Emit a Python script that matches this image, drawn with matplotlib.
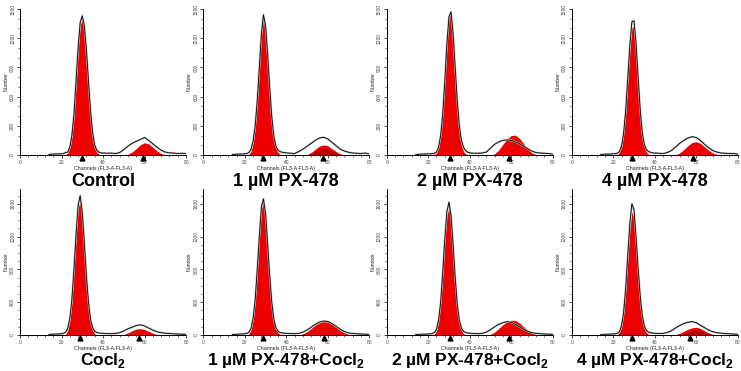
import numpy as np
import matplotlib.pyplot as plt
from matplotlib.ticker import MultipleLocator

# ------------------------------------------------------------------
# histogram channels (FL3-A)
ch = [14, 16, 18, 20,
      21, 22, 23, 24, 25, 26, 27, 28, 29, 30, 31, 32, 33, 34, 35, 36, 37, 38, 39, 40,
      42, 44, 46, 48, 50, 52, 54, 56, 58, 60, 62, 64, 66, 68, 70, 72, 74, 76, 78, 80]

titles = ["Control", "1 µM PX-478", "2 µM PX-478", "4 µM PX-478",
          r"Cocl$_\mathrm{2}$", r"1 µM PX-478+Cocl$_\mathrm{2}$",
          r"2 µM PX-478+Cocl$_\mathrm{2}$", r"4 µM PX-478+Cocl$_\mathrm{2}$"]

# measured histogram (outline)
control_total = [5, 10, 12, 12,
                 15, 25, 30, 80, 200, 420, 760, 1100, 1360, 1430, 1330, 1080, 760, 450, 230, 100, 50, 30, 22, 20,
                 18, 20, 15, 25, 55, 90, 120, 140, 160, 180, 150, 115, 80, 50, 30, 22, 20, 15, 18, 12]
px1_total = [5, 8, 10, 12,
             15, 25, 60, 140, 300, 560, 900, 1250, 1440, 1330, 1040, 690, 390, 190, 90, 50, 35, 28, 25, 22,
             18, 15, 35, 60, 90, 120, 150, 175, 182, 165, 130, 95, 60, 40, 28, 20, 18, 15, 20, 12]
px2_total = [5, 8, 10, 12,
             12, 14, 18, 30, 80, 200, 420, 760, 1140, 1420, 1470, 1250, 900, 560, 300, 150, 80, 45, 30, 22,
             18, 18, 20, 30, 70, 110, 135, 150, 155, 150, 135, 115, 90, 65, 40, 25, 20, 18, 15, 10]
px4_total = [5, 8, 10, 12,
             14, 18, 35, 90, 220, 450, 780, 1120, 1370, 1380, 1150, 800, 470, 230, 110, 55, 35, 28, 22, 20,
             18, 15, 25, 45, 80, 120, 150, 175, 188, 180, 150, 110, 75, 45, 30, 20, 18, 15, 15, 10]
cocl_total = [5, 10, 12, 15,
              20, 35, 80, 200, 430, 800, 1220, 1580, 1700, 1500, 1130, 720, 400, 190, 90, 45, 30, 25, 22, 20,
              18, 16, 20, 28, 50, 75, 95, 115, 125, 110, 85, 60, 40, 28, 22, 18, 15, 12, 10, 8]
px1c_total = [5, 8, 12, 15,
              20, 35, 80, 200, 430, 800, 1200, 1560, 1660, 1480, 1120, 720, 400, 190, 90, 45, 30, 25, 22, 20,
              18, 16, 20, 35, 60, 95, 130, 158, 170, 165, 140, 105, 70, 42, 25, 18, 15, 12, 10, 8]
px2c_total = [5, 8, 10, 12,
              14, 18, 30, 70, 180, 400, 760, 1170, 1500, 1620, 1460, 1100, 700, 380, 180, 85, 45, 30, 25, 22,
              18, 16, 20, 35, 65, 100, 130, 150, 163, 155, 130, 100, 70, 45, 28, 20, 16, 12, 10, 8]
px4c_total = [5, 8, 10, 12,
              15, 20, 40, 110, 270, 560, 960, 1350, 1600, 1530, 1200, 820, 480, 240, 110, 55, 35, 28, 24, 20,
              18, 20, 30, 50, 85, 115, 140, 155, 163, 150, 120, 90, 60, 40, 28, 22, 18, 15, 12, 8]

# fitted G0/G1 and G2/M peaks (red)
control_fit = [0, 0, 0, 0,
               0, 5, 20, 70, 180, 400, 730, 1070, 1330, 1400, 1300, 1050, 730, 420, 200, 80, 25, 8, 2, 0,
               0, 0, 0, 0, 0, 8, 30, 65, 105, 126, 115, 80, 42, 15, 3, 0, 0, 0, 0, 0]
px1_fit = [0, 0, 0, 0,
           0, 5, 40, 120, 280, 540, 880, 1230, 1420, 1310, 1020, 670, 370, 170, 70, 25, 8, 2, 0, 0,
           0, 0, 0, 0, 5, 25, 60, 92, 103, 95, 65, 35, 12, 3, 0, 0, 0, 0, 0, 0]
px2_fit = [0, 0, 0, 0,
           0, 0, 5, 20, 70, 190, 410, 750, 1130, 1410, 1460, 1230, 870, 520, 250, 100, 35, 10, 3, 0,
           0, 0, 0, 0, 0, 12, 50, 110, 165, 200, 204, 170, 115, 60, 22, 5, 0, 0, 0, 0]
px4_fit = [0, 0, 0, 0,
           0, 5, 25, 80, 210, 430, 750, 1080, 1310, 1320, 1100, 760, 440, 200, 80, 28, 8, 2, 0, 0,
           0, 0, 0, 0, 0, 20, 55, 95, 128, 137, 120, 85, 48, 20, 5, 0, 0, 0, 0, 0]
cocl_fit = [0, 0, 0, 0,
            0, 10, 55, 170, 400, 770, 1180, 1540, 1640, 1440, 1080, 680, 360, 150, 55, 15, 4, 0, 0, 0,
            0, 0, 0, 0, 8, 25, 50, 72, 78, 68, 45, 22, 6, 0, 0, 0, 0, 0, 0, 0]
px1c_fit = [0, 0, 0, 0,
            0, 15, 60, 180, 410, 780, 1180, 1540, 1640, 1460, 1100, 700, 380, 170, 70, 25, 8, 2, 0, 0,
            0, 0, 0, 15, 40, 80, 120, 150, 163, 158, 130, 92, 55, 25, 8, 0, 0, 0, 0, 0]
px2c_fit = [0, 0, 0, 0,
            0, 0, 10, 50, 160, 380, 730, 1130, 1450, 1560, 1400, 1040, 650, 340, 150, 55, 15, 4, 0, 0,
            0, 0, 0, 0, 8, 35, 80, 125, 160, 180, 178, 145, 100, 55, 22, 5, 0, 0, 0, 0]
px4c_fit = [0, 0, 0, 0,
            0, 5, 30, 95, 250, 530, 910, 1280, 1500, 1440, 1130, 760, 430, 200, 80, 28, 8, 2, 0, 0,
            0, 0, 0, 0, 5, 20, 45, 70, 88, 94, 80, 52, 25, 8, 0, 0, 0, 0, 0, 0]

# darker inner G2 component (only two panels)
px1_dark = [0] * 24 + [0, 0, 0, 0, 0, 12, 38, 60, 69, 62, 40, 18, 5, 0, 0, 0, 0, 0, 0, 0]
px4c_dark = [0] * 24 + [0, 0, 0, 0, 0, 0, 15, 35, 52, 61, 50, 28, 10, 0, 0, 0, 0, 0, 0, 0]

# peak markers (channel)
markers = [[29.8, 59.3], [29.0, 57.7], [30.6, 58.7], [29.0, 58.4],
           [28.7, 57.2], [29.0, 58.3], [30.6, 58.7], [29.0, 57.0]]
# ------------------------------------------------------------------


def main():
    plt.rcParams['font.family'] = ['Liberation Sans', 'DejaVu Sans']
    plt.rcParams['mathtext.fontset'] = 'custom'
    plt.rcParams['mathtext.rm'] = 'Liberation Sans:bold'

    totals = [control_total, px1_total, px2_total, px4_total,
              cocl_total, px1c_total, px2c_total, px4c_total]
    fits = [control_fit, px1_fit, px2_fit, px4_fit,
            cocl_fit, px1c_fit, px2c_fit, px4c_fit]
    darks = [None, px1_dark, None, None, None, None, None, px4c_dark]

    W, H = 741, 371
    fig = plt.figure(figsize=(W / 100, H / 100), dpi=100)
    lefts = [20, 203.3, 386.7, 571.7]
    width = 166

    for i in range(8):
        row, col = divmod(i, 4)
        if row == 0:
            y0, y1, ymax, step = 155, 9, 1500, 300
        else:
            y0, y1, ymax, step = 335, 189, 1780, 400
        ax = fig.add_axes([lefts[col] / W, 1 - y0 / H, width / W, (y0 - y1) / H])

        ax.fill_between(ch, fits[i], color='#ee0000', lw=0, zorder=2)
        if darks[i] is not None:
            ax.fill_between(ch, darks[i], color='#b80000', lw=0, zorder=3)
        ax.plot(ch, totals[i], color='#bbbbbb', lw=1.4, zorder=3.5)
        ax.plot(ch, totals[i], color='black', lw=0.6, zorder=4)
        ax.plot(markers[i], [-0.022, -0.022], transform=ax.get_xaxis_transform(),
                ls='none', marker='^', ms=3.5, color='black', clip_on=False, zorder=5)

        ax.set_xlim(0, 80)
        ax.set_ylim(0, ymax)
        for s in ['top', 'right']:
            ax.spines[s].set_visible(False)
        for s in ['left', 'bottom']:
            ax.spines[s].set_linewidth(0.7)
        ax.xaxis.set_major_locator(MultipleLocator(20))
        ax.xaxis.set_minor_locator(MultipleLocator(4))
        ax.yaxis.set_major_locator(MultipleLocator(step))
        ax.yaxis.set_minor_locator(MultipleLocator(100))
        ax.tick_params(which='major', direction='out', length=2.5, width=0.5,
                       labelsize=3.5, pad=1, labelcolor='#444444')
        ax.tick_params(which='minor', direction='out', length=1.5, width=0.4)
        for lab in ax.get_yticklabels():
            lab.set_rotation(90)
            lab.set_va('center')
        ax.set_xlabel("Channels (FL3-A-FL3-A)", fontsize=3.8, labelpad=0.5, color='#222222')
        ax.set_ylabel("Number", fontsize=3.8, labelpad=1, color='#222222')

        cx = (lefts[col] + width / 2) / W
        if row == 0:
            fig.text(cx, 0.4987, titles[i], ha='center', va='baseline',
                     fontsize=13, fontweight='bold')
        else:
            fig.text(cx, 0.015, titles[i], ha='center', va='baseline',
                     fontsize=12.5, fontweight='bold')

    fig.savefig("out.png", dpi=100)


if __name__ == "__main__":
    main()
